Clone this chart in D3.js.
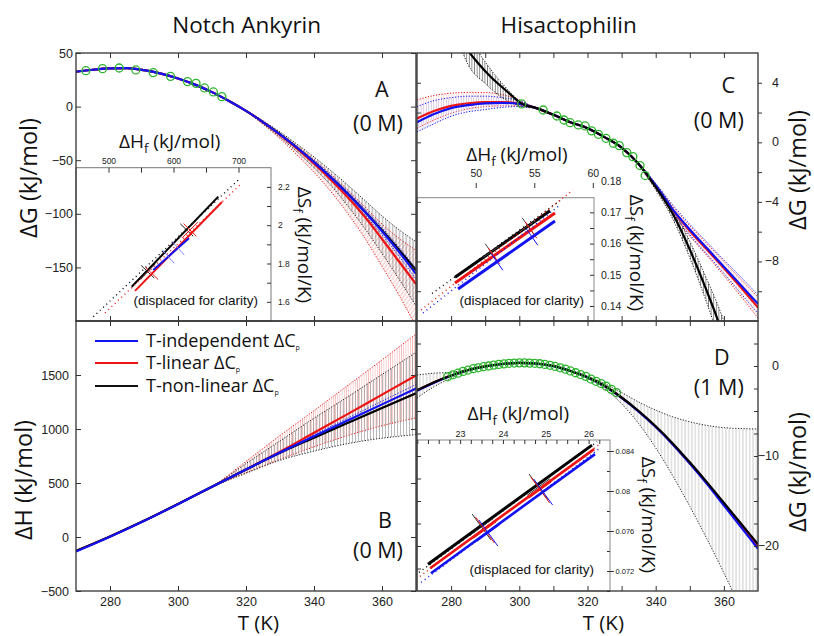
<!DOCTYPE html>
<html>
<head>
<meta charset="utf-8">
<script src="https://cdn.jsdelivr.net/npm/d3@7"></script>
<style>
body { margin: 0; background: #fff; }
svg { display: block; font-family: "Open Sans", sans-serif; }
</style>
</head>
<body>
<svg id="fig" width="814" height="636"></svg>
<script>
// ---------- data ----------
var T5 = [270,275,280,285,290,295,300,305,310,315,320,325,330,335,340,345,350,355,360,365,370];
var T10 = [270,280,290,300,310,320,330,340,350,360,370];

// A: Notch Ankyrin, dG (kJ/mol), 0 M
var A_black = [32.5,34.4,35.6,35.8,34.0,30.8,26.2,20.5,13.5,5.2,-4.0,-14.4,-25.9,-38.4,-51.8,-66.2,-81.6,-98.0,-115.4,-133.7,-152.7];
var A_blue  = [32.5,34.4,35.6,35.8,34.0,30.8,26.2,20.5,13.5,5.2,-4.0,-14.4,-25.9,-38.4,-51.8,-66.3,-81.8,-98.4,-116.2,-135.5,-156.0];
var A_red   = [32.5,34.4,35.6,35.8,34.0,30.8,26.2,20.5,13.5,5.2,-4.0,-14.5,-26.3,-39.3,-53.3,-68.4,-84.8,-103.0,-123.5,-144.5,-165.5];
var A_bandT = [320,325,330,335,340,345,350,355,360,365,370];
var A_blackHi = [-3.6,-13.2,-23.6,-35.0,-47.0,-59.8,-73.4,-87.6,-102.0,-114.8,-126.0];
var A_blackLo = [-4.4,-16.0,-28.6,-42.2,-57.0,-73.6,-93.0,-114.0,-137.0,-161.0,-186.0];
var A_redHi = [-3.6,-13.6,-24.6,-36.6,-49.2,-63.0,-78.0,-93.6,-109.6,-122.8,-134.0];
var A_redLo = [-4.4,-16.4,-30.0,-45.0,-61.2,-79.4,-100.0,-123.0,-149.0,-176.0,-205.0];
var A_blueHi = [-3.8,-14.0,-25.2,-37.4,-50.4,-64.4,-79.4,-95.6,-112.8,-131.4,-151.0];
var A_blueLo = [-4.2,-14.8,-26.6,-39.4,-53.2,-68.2,-84.2,-101.2,-119.6,-139.6,-161.0];
var A_greenT = [272.9,277.8,282.7,287.6,292.7,297.8,302.8,305.3,307.8,310.4,312.9];
var A_greenG = [33.5,35.4,36.0,34.2,31.7,28.2,23.3,21.7,17.4,13.7,9.3];

// B: Notch Ankyrin, dH (kJ/mol), 0 M
var B_black = [-129,5,150,305,465,625,780,920,1058,1195,1330];
var B_blue  = [-135,2,148,304,465,625,782,932,1080,1228,1375];
var B_red   = [-129,5,150,305,465,625,790,965,1140,1318,1495];
var B_bandT = [305,310,320,330,340,350,360,370];
var B_redHi = [385,467,700,940,1170,1405,1640,1880];
var B_redLo = [385,463,595,720,835,940,1030,1103];
var B_blackHi = [385,466,680,890,1100,1300,1505,1709];
var B_blackLo = [385,463,590,710,795,865,915,948];
var B_blueHi = [385,466,630,792,948,1102,1258,1412];
var B_blueLo = [385,464,620,772,916,1058,1198,1338];

// C: Hisactophilin, dG (kJ/mol), 0 M
var C_blackT = [280,283,285.5,288,291.6,296.5,300.7,305,310,315,320,325,330,335,340,345,350,355,358,362];
var C_black  = [8.6,7.0,6.0,5.3,4.4,3.4,2.6,2.3,1.85,1.35,0.95,0.35,-0.35,-1.45,-3.0,-4.8,-7.2,-10.0,-11.8,-14.6];
var C_red  = [1.6,2.1,2.45,2.62,2.7,2.7,2.6,2.3,1.85,1.35,0.95,0.35,-0.35,-1.45,-2.95,-4.55,-5.95,-7.2,-8.45,-9.75,-11.1];
var C_blue = [1.35,1.9,2.3,2.5,2.62,2.65,2.58,2.3,1.85,1.35,0.95,0.35,-0.35,-1.45,-2.9,-4.5,-5.85,-7.1,-8.35,-9.6,-10.85];
var C_bandLT = [280,283,285,290,295,300,304];
var C_blackHiL = [10.0,8.1,7.2,5.4,3.95,2.8,2.35];
var C_blackLoL = [7.3,6.2,5.2,3.95,3.0,2.45,2.3];
var C_bandRT = [335,340,345,350,355,358,362];
var C_blackHiR = [-1.45,-2.8,-4.45,-6.65,-9.2,-10.8,-13.3];
var C_blackLoR = [-1.55,-3.2,-5.15,-7.75,-10.8,-12.8,-15.9];
var C_rbLT = [270,275,280,285,290,295,300,303];
var C_redHiL = [2.85,3.15,3.3,3.35,3.35,3.2,2.85,2.5];
var C_redLoL = [0.95,1.5,1.95,2.25,2.4,2.45,2.45,2.35];
var C_blueHiL = [2.4,2.8,3.0,3.1,3.1,3.0,2.8,2.5];
var C_blueLoL = [0.7,1.25,1.75,2.05,2.2,2.35,2.4,2.35];
var C_rbRT = [335,340,345,350,355,360,365,370];
var C_redHiR = [-1.4,-2.8,-4.3,-5.6,-6.8,-8.0,-9.2,-10.4];
var C_redLoR = [-1.5,-3.1,-4.8,-6.3,-7.6,-8.95,-10.35,-11.8];
var C_blueHiR = [-1.4,-2.75,-4.2,-5.5,-6.7,-7.9,-9.05,-10.25];
var C_blueLoR = [-1.5,-3.05,-4.7,-6.2,-7.5,-8.8,-10.15,-11.5];
var C_greenT = [300.7,307.0,311.0,313.1,314.9,317.3,319.3,321.2,323.2,325.4,327.6,329.3,331.5,333.3,335.4,336.9];
var C_greenG = [2.58,2.17,1.77,1.50,1.32,1.17,1.10,0.77,0.54,0.27,-0.06,-0.22,-0.69,-0.96,-1.56,-2.23];

// D: Hisactophilin, dG (kJ/mol), 1 M
var D_black = [-2.7,-1.8,-1.05,-0.45,-0.05,0.22,0.35,0.28,0.0,-0.55,-1.25,-2.2,-3.5,-5.0,-6.7,-8.6,-10.7,-12.9,-15.2,-17.5,-19.8];
var D_blue  = [-2.75,-1.85,-1.08,-0.47,-0.06,0.21,0.34,0.27,-0.01,-0.56,-1.27,-2.23,-3.54,-5.06,-6.78,-8.72,-10.85,-13.1,-15.5,-17.9,-20.3];
var D_red   = [-2.72,-1.82,-1.06,-0.46,-0.05,0.22,0.35,0.28,0.0,-0.55,-1.26,-2.22,-3.52,-5.03,-6.75,-8.66,-10.8,-13.0,-15.4,-17.75,-20.1];
var D_bandLT = [270,275,280,285,288];
var D_hiL = [-1.0,-0.8,-0.7,-0.4,-0.15];
var D_loL = [-3.55,-2.3,-1.35,-0.55,-0.2];
var D_bandRT = [318,320,325,330,335,340,345,350,355,360,365,370];
var D_hiR = [-0.95,-1.15,-1.95,-2.95,-4.0,-4.9,-5.65,-6.2,-6.6,-6.85,-6.95,-7.0];
var D_loR = [-1.0,-1.35,-2.5,-4.2,-6.4,-9.1,-12.2,-15.6,-19.2,-23.0,-27.0,-31.0];
var D_greenT = [279,280.5,282,283.5,285,286.5,288,289.5,291,292.5,294,295.5,297,298.5,300,301.5,303,304.5,306,307.5,309,310.5,312,313.5,315,316.5,318,319.5,321,322.5,324,325.5,327,328.5];
var D_greenG = [-1.2,-0.98,-0.8,-0.6,-0.45,-0.3,-0.2,-0.08,0.0,0.1,0.18,0.24,0.3,0.33,0.35,0.35,0.32,0.3,0.25,0.18,0.08,-0.05,-0.2,-0.35,-0.55,-0.75,-0.95,-1.15,-1.45,-1.7,-1.95,-2.25,-2.6,-2.95];

// insets: [dHf, dSf] points (solid part, dotted extent, cross centres)
var iA_blackLine = [[535.7,1.679],[668.9,2.149]];
var iA_blackDots = [[476.6,1.522],[699.7,2.236]];
var iA_redLine = [[540.8,1.657],[674.6,2.121]];
var iA_redDots = [[494.6,1.542],[702.3,2.210]];
var iA_blueLine = [[568.9,1.766],[623.8,1.932]];
var iA_blackX = [[560.3,1.757],[620.3,1.975]];
var iA_redX = [[566.5,1.749],[625.4,1.975]];
var iA_blueX = [[592.0,1.836],[607.4,1.879]];

var iC_blackLine = [[48.23,0.14920],[56.34,0.17050]];
var iC_blackDots = [[46.27,0.14401],[57.20,0.17380]];
var iC_redLine = [[48.23,0.14737],[56.77,0.16980]];
var iC_redDots = [[45.33,0.13872],[58.31,0.17717]];
var iC_blueLine = [[48.49,0.14545],[56.77,0.16724]];
var iC_blueDots = [[45.50,0.13776],[57.20,0.17236]];
var iC_blackX = [[51.30,0.15731],[54.46,0.16563]];
var iC_redX = [[51.56,0.15602],[54.72,0.16435]];
var iC_blueX = [[51.82,0.15410],[54.81,0.16211]];

var iD_blackLine = [[22.25,0.07268],[26.08,0.08459]];
var iD_blackDots = [[22.04,0.07186],[26.20,0.08493]];
var iD_redLine = [[22.30,0.07228],[26.13,0.08419]];
var iD_redDots = [[22.06,0.07146],[26.27,0.08473]];
var iD_blueLine = [[22.32,0.07178],[26.15,0.08369]];
var iD_blueDots = [[22.09,0.07086],[26.24,0.08420]];
var iD_blackX = [[23.50,0.0764],[24.83,0.0804]];
var iD_redX = [[23.58,0.0761],[24.87,0.0801]];
var iD_blueX = [[23.66,0.0758],[24.94,0.0799]];

// tick values
var A_yticks = [50,0,-50,-100,-150];
var B_yticks = [-500,0,500,1000,1500];
var TL_ticks = [280,300,320,340,360];
var TR_ticks = [280,290,300,310,320,330,340,350,360];
var TR_labels = [280,300,320,340,360];
var C_yticks = [-10,-8,-6,-4,-2,0,2,4];
var C_ylabels = [-8,-4,0,4];
var D_yminor = [-22.5,-20,-17.5,-15,-12.5,-10,-7.5,-5,-2.5,0,2.5];
var D_ylabels = [0,-10,-20];

// ---------- setup ----------
var svg = d3.select("#fig");
var BLUE = "#1212f2", RED = "#ee1414", GREEN = "#2cb52c";
var fmt = d3.format("d");

var xL = d3.scaleLinear().domain([270,370]).range([76,416]);
var xR = d3.scaleLinear().domain([270,370]).range([417,758]);
var yA = d3.scaleLinear().domain([-200,50]).range([321,53]);
var yB = d3.scaleLinear().domain([-500,2000]).range([591,321]);
var yC = d3.scaleLinear().domain([-12,6]).range([321,53]);
var yD = d3.scaleLinear().domain([-25,5]).range([591,321]);

var iAx = d3.scaleLinear().domain([450,750]).range([76,271]);
var iAy = d3.scaleLinear().domain([1.5,2.3]).range([321,167.7]);
var iCx = d3.scaleLinear().domain([44.9,60.1]).range([416,594]);
var iCy = d3.scaleLinear().domain([0.1352,0.1747]).range([321,197.7]);
var iDx = d3.scaleLinear().domain([21.97,26.5]).range([416,610]);
var iDy = d3.scaleLinear().domain([0.070,0.0851]).range([591,440]);

var defs = svg.append("defs");
function hatch(id, color, gap, w, angle) {
  var p = defs.append("pattern").attr("id", id).attr("patternUnits", "userSpaceOnUse")
    .attr("width", gap).attr("height", 10);
  if (angle) p.attr("patternTransform", "rotate(" + angle + ")");
  p.append("line").attr("x1", gap / 2).attr("x2", gap / 2).attr("y1", 0).attr("y2", 10)
    .attr("stroke", color).attr("stroke-width", w);
}
hatch("hBlack", "#555", 3.4, 0.6);
hatch("hGrey", "#a3a3a3", 3.4, 0.6);
hatch("hGreyB", "#8a8a8a", 3.0, 0.6);
hatch("hBlackDense", "#333", 2.6, 0.6);
hatch("hRed", "#f3a3a3", 2.2, 0.6);
hatch("hRedDiag", "#f08a8a", 3.2, 0.6, 35);
hatch("hRedLight", "#f6b5b5", 2.5, 0.5);
hatch("hBlueLight", "#b5b5f6", 2.5, 0.5);

function clip(id, x0, y0, x1, y1) {
  defs.append("clipPath").attr("id", id).append("rect")
    .attr("x", x0).attr("y", y0).attr("width", x1 - x0).attr("height", y1 - y0);
}
clip("clipA", 76, 53, 416, 321);
clip("clipB", 76, 321, 416, 591);
clip("clipC", 417, 53, 758, 321);
clip("clipD", 417, 321, 758, 591);

function pts(xs, ys) { return xs.map(function(t, i) { return [t, ys[i]]; }); }

function curve(g, xs, ys, x, y, color, width, dash) {
  g.append("path").datum(pts(xs, ys))
    .attr("d", d3.line().x(function(d) { return x(d[0]); }).y(function(d) { return y(d[1]); }).curve(d3.curveMonotoneX))
    .attr("fill", "none").attr("stroke", color).attr("stroke-width", width)
    .attr("stroke-dasharray", dash || null);
}

function band(g, xs, hi, lo, x, y, color, pattern) {
  if (pattern) {
    var data = xs.map(function(t, i) { return [t, hi[i], lo[i]]; });
    g.append("path").datum(data)
      .attr("d", d3.area().x(function(d) { return x(d[0]); })
        .y0(function(d) { return y(d[2]); }).y1(function(d) { return y(d[1]); })
        .curve(d3.curveMonotoneX))
      .attr("fill", "url(#" + pattern + ")");
  }
  curve(g, xs, hi, x, y, color, 1, "1.2,1.6");
  curve(g, xs, lo, x, y, color, 1, "1.2,1.6");
}

function circles(g, xs, ys, x, y) {
  g.selectAll(null).data(pts(xs, ys)).enter().append("circle")
    .attr("cx", function(d) { return x(d[0]); })
    .attr("cy", function(d) { return y(d[1]); })
    .attr("r", 4).attr("fill", "none").attr("stroke", GREEN).attr("stroke-width", 1.3);
}

function axis(gen, tx, ty, size) {
  var g = svg.append("g").attr("transform", "translate(" + tx + "," + ty + ")").call(gen);
  g.select(".domain").remove();
  g.selectAll(".tick line").attr("stroke", "#333").attr("stroke-width", 1);
  g.selectAll(".tick text").attr("font-family", "'Liberation Sans', Arial, sans-serif")
    .attr("font-size", size || 12.5).attr("fill", "#222");
  return g;
}

function label(x, y, rot, parts, size, anchor, family) {
  var t = svg.append("text")
    .attr("transform", "translate(" + x + "," + y + ")" + (rot ? " rotate(" + rot + ")" : ""))
    .attr("text-anchor", anchor || "middle").attr("font-size", size).attr("fill", "#111");
  if (family) t.attr("font-family", family);
  parts.forEach(function(p) {
    var s = t.append("tspan").text(p[0]);
    if (p[1]) s.attr("font-size", p[1]);
    if (p[2]) s.attr("dy", p[2]);
  });
  return t;
}

// right-hand value labels, right-aligned just outside the frame
function rightLabels(vals, y, xEnd) {
  svg.append("g").selectAll("text").data(vals).enter().append("text")
    .attr("x", xEnd).attr("y", function(d) { return y(d); }).attr("dy", "0.32em")
    .attr("text-anchor", "end").attr("font-family", "'Liberation Sans', Arial, sans-serif")
    .attr("font-size", 12.5).attr("fill", "#222").text(fmt);
}

// ---------- panel A ----------
var gA = svg.append("g").attr("clip-path", "url(#clipA)");
band(gA, A_bandT, A_redHi, A_redLo, xL, yA, RED, "hRedDiag");
band(gA, A_bandT, A_blackHi, A_blackLo, xL, yA, "#222", "hBlack");
band(gA, A_bandT, A_blueHi, A_blueLo, xL, yA, BLUE, null);
curve(gA, T5, A_black, xL, yA, "#000", 2.2);
curve(gA, T5, A_red, xL, yA, RED, 2.2);
curve(gA, T5, A_blue, xL, yA, BLUE, 2.2);
circles(gA, A_greenT, A_greenG, xL, yA);

// ---------- panel B ----------
var gB = svg.append("g").attr("clip-path", "url(#clipB)");
band(gB, B_bandT, B_redHi, B_redLo, xL, yB, RED, "hRed");
band(gB, B_bandT, B_blackHi, B_blackLo, xL, yB, "#222", "hGreyB");
band(gB, B_bandT, B_blueHi, B_blueLo, xL, yB, BLUE, null);
curve(gB, T10, B_red, xL, yB, RED, 2.2);
curve(gB, T10, B_black, xL, yB, "#000", 2.2);
curve(gB, T10, B_blue, xL, yB, BLUE, 2.2);

// ---------- panel C ----------
var gC = svg.append("g").attr("clip-path", "url(#clipC)");
band(gC, C_rbLT, C_redHiL, C_redLoL, xR, yC, RED, "hRedLight");
band(gC, C_rbLT, C_blueHiL, C_blueLoL, xR, yC, BLUE, "hBlueLight");
band(gC, C_rbRT, C_redHiR, C_redLoR, xR, yC, RED, "hRedLight");
band(gC, C_rbRT, C_blueHiR, C_blueLoR, xR, yC, BLUE, null);
band(gC, C_bandLT, C_blackHiL, C_blackLoL, xR, yC, "#222", "hBlackDense");
band(gC, C_bandRT, C_blackHiR, C_blackLoR, xR, yC, "#222", "hBlackDense");
curve(gC, T5, C_red, xR, yC, RED, 2.2);
curve(gC, T5, C_blue, xR, yC, BLUE, 2.2);
curve(gC, C_blackT, C_black, xR, yC, "#000", 2.2);
circles(gC, C_greenT, C_greenG, xR, yC);

// ---------- panel D ----------
var gD = svg.append("g").attr("clip-path", "url(#clipD)");
band(gD, D_bandLT, D_hiL, D_loL, xR, yD, "#222", "hGrey");
band(gD, D_bandRT, D_hiR, D_loR, xR, yD, "#222", "hGrey");
curve(gD, T5, D_red, xR, yD, RED, 2.2);
curve(gD, T5, D_blue, xR, yD, BLUE, 2.2);
curve(gD, T5, D_black, xR, yD, "#000", 2.2);
circles(gD, D_greenT, D_greenG, xR, yD);

// ---------- insets ----------
function insetSeries(x, y, line, dots, crosses, color, w, along, perp, xColor) {
  var ln = d3.line().x(function(d) { return x(d[0]); }).y(function(d) { return y(d[1]); });
  if (dots) {
    svg.append("path").datum(dots).attr("d", ln).attr("fill", "none").attr("stroke", color)
      .attr("stroke-width", 1.4).attr("stroke-dasharray", "1,3.5");
  }
  svg.append("path").datum(line).attr("d", ln).attr("fill", "none").attr("stroke", color).attr("stroke-width", w);
  var x0 = x(line[0][0]), y0 = y(line[0][1]), x1 = x(line[1][0]), y1 = y(line[1][1]);
  var L = Math.hypot(x1 - x0, y1 - y0), ux = (x1 - x0) / L, uy = (y1 - y0) / L;
  crosses.forEach(function(c) {
    var cx = x(c[0]), cy = y(c[1]);
    if (along) {
      svg.append("line").attr("x1", cx - ux * along).attr("y1", cy - uy * along)
        .attr("x2", cx + ux * along).attr("y2", cy + uy * along)
        .attr("stroke", xColor).attr("stroke-width", 1);
    }
    svg.append("line").attr("x1", cx + uy * perp).attr("y1", cy - ux * perp)
      .attr("x2", cx - uy * perp).attr("y2", cy + ux * perp)
      .attr("stroke", xColor).attr("stroke-width", 1);
  });
}

// inset A
svg.append("rect").attr("x", 76).attr("y", 167.7).attr("width", 195).attr("height", 153.3)
  .attr("fill", "#fff").attr("stroke", "#777").attr("stroke-width", 1);
insetSeries(iAx, iAy, iA_blackLine, iA_blackDots, iA_blackX, "#000", 2, 11, 9, "#222");
insetSeries(iAx, iAy, iA_redLine, iA_redDots, iA_redX, RED, 2, 11, 9, RED);
insetSeries(iAx, iAy, iA_blueLine, null, iA_blueX, BLUE, 2, 0, 9, "#8080ff");
axis(d3.axisTop(iAx).tickValues([500,550,600,650,700]).tickSize(-5).tickPadding(4)
  .tickFormat(function(d) { return d % 100 === 0 ? d : ""; }), 0, 167.7, 8.5);
axis(d3.axisRight(iAy).tickValues([1.6,1.7,1.8,1.9,2,2.1,2.2]).tickSize(-4).tickPadding(7)
  .tickFormat(function(d) { return [1.6,1.8,2,2.2].indexOf(d) >= 0 ? String(d) : ""; }), 271, 0, 8.5);
label(169.7, 148, 0, [["ΔH"], ["f", 13, 5], [" (kJ/mol)", null, -5]], 19);
label(298, 245, 90, [["ΔS"], ["f", 13, 5], [" (kJ/mol/K)", null, -5]], 19);
label(195.8, 305, 0, [["(displaced for clarity)"]], 13.5, "middle", "'Liberation Sans', Arial, sans-serif");

// inset C
svg.append("rect").attr("x", 417).attr("y", 197.7).attr("width", 177).attr("height", 123.3)
  .attr("fill", "#fff").attr("stroke", "#888").attr("stroke-width", 1);
insetSeries(iCx, iCy, iC_blackLine, iC_blackDots, iC_blackX, "#000", 3, 10, 10, "#444");
insetSeries(iCx, iCy, iC_redLine, iC_redDots, iC_redX, RED, 3, 10, 10, RED);
insetSeries(iCx, iCy, iC_blueLine, iC_blueDots, iC_blueX, BLUE, 3, 10, 10, BLUE);
axis(d3.axisTop(iCx).tickValues([50,55,60]).tickSize(5).tickPadding(6.5).tickFormat(fmt), 0, 188, 10.5);
axis(d3.axisRight(iCy).tickValues([0.14,0.145,0.15,0.155,0.16,0.165,0.17]).tickSize(-4).tickFormat(""), 594, 0);
axis(d3.axisRight(iCy).tickValues([0.14,0.15,0.16,0.17,0.18]).tickSize(0).tickPadding(7)
  .tickFormat(d3.format(".2f")), 594, 0, 10.5);
label(517, 161, 0, [["ΔH"], ["f", 13, 5], [" (kJ/mol)", null, -5]], 19);
label(630, 253, 90, [["ΔS"], ["f", 13, 5], [" (kJ/mol/K)", null, -5]], 19);
label(521.7, 305, 0, [["(displaced for clarity)"]], 13.5, "middle", "'Liberation Sans', Arial, sans-serif");

// inset D
svg.append("rect").attr("x", 417).attr("y", 440).attr("width", 193).attr("height", 151)
  .attr("fill", "#fff").attr("stroke", "#888").attr("stroke-width", 1);
insetSeries(iDx, iDy, iD_blackLine, iD_blackDots, iD_blackX, "#000", 3, 14, 16, "#333");
insetSeries(iDx, iDy, iD_redLine, iD_redDots, iD_redX, RED, 2.6, 14, 16, RED);
insetSeries(iDx, iDy, iD_blueLine, iD_blueDots, iD_blueX, BLUE, 2.6, 14, 16, BLUE);
axis(d3.axisTop(iDx).tickValues([22,22.25,22.5,22.75,23,23.25,23.5,23.75,24,24.25,24.5,24.75,25,25.25,25.5,25.75,26,26.25])
  .tickSize(-4).tickPadding(3)
  .tickFormat(function(d) { return d % 1 === 0 && d > 22 ? fmt(d) : ""; }), 0, 440, 9);
axis(d3.axisRight(iDy).tickValues([0.07,0.072,0.074,0.076,0.078,0.08,0.082,0.084]).tickSize(-3).tickFormat(""), 610, 0);
axis(d3.axisRight(iDy).tickValues([0.072,0.076,0.08,0.084]).tickSize(4).tickPadding(1.5)
  .tickFormat(function(d) { return String(d); }), 610, 0, 7.5);
label(518.3, 420, 0, [["ΔH"], ["f", 13, 5], [" (kJ/mol)", null, -5]], 19);
label(641.5, 515, 90, [["ΔS"], ["f", 13, 5], [" (kJ/mol/K)", null, -5]], 19);
label(531.7, 574, 0, [["(displaced for clarity)"]], 13.5, "middle", "'Liberation Sans', Arial, sans-serif");

// ---------- axes / frames ----------
// A
axis(d3.axisLeft(yA).tickValues(A_yticks).tickSize(-5).tickPadding(3).tickFormat(fmt), 76, 0);
axis(d3.axisRight(yA).tickValues(A_yticks).tickSize(-5).tickFormat(""), 416, 0);
axis(d3.axisTop(xL).tickValues(TL_ticks).tickSize(-5).tickFormat(""), 0, 53);
axis(d3.axisBottom(xL).tickValues(TL_ticks).tickSize(-5).tickFormat(""), 0, 321);
// B
axis(d3.axisLeft(yB).tickValues(B_yticks).tickSize(-5).tickPadding(7).tickFormat(fmt), 76, 0);
axis(d3.axisRight(yB).tickValues(B_yticks).tickSize(-5).tickFormat(""), 416, 0);
axis(d3.axisTop(xL).tickValues(TL_ticks).tickSize(-5).tickFormat(""), 0, 321);
axis(d3.axisBottom(xL).tickValues(TL_ticks).tickSize(-5).tickPadding(6).tickFormat(fmt), 0, 591);
// C
axis(d3.axisTop(xR).tickValues(TR_ticks).tickSize(-5).tickFormat(""), 0, 53);
axis(d3.axisBottom(xR).tickValues(TR_ticks).tickSize(-5).tickFormat(""), 0, 321);
axis(d3.axisLeft(yC).tickValues(C_yticks).tickSize(-4).tickFormat(""), 417, 0);
axis(d3.axisRight(yC).tickValues(C_yticks).tickSize(4).tickFormat(""), 758, 0);
rightLabels(C_ylabels, yC, 779);
// D
axis(d3.axisTop(xR).tickValues(TR_ticks).tickSize(-5).tickFormat(""), 0, 321);
axis(d3.axisBottom(xR).tickValues(TR_ticks).tickSize(-5).tickFormat(""), 0, 591);
axis(d3.axisBottom(xR).tickValues(TR_labels).tickSize(0).tickPadding(6).tickFormat(fmt), 0, 591);
axis(d3.axisLeft(yD).tickValues(D_yminor).tickSize(-4).tickFormat(""), 417, 0);
axis(d3.axisRight(yD).tickValues(D_yminor).tickSize(-4).tickFormat(""), 758, 0);
rightLabels(D_ylabels, yD, 779);

function frame(x0, y0, x1, y1) {
  svg.append("rect").attr("x", x0).attr("y", y0).attr("width", x1 - x0).attr("height", y1 - y0)
    .attr("fill", "none").attr("stroke", "#333").attr("stroke-width", 1.3);
}
frame(76, 53, 416, 321);
frame(76, 321, 416, 591);
frame(417, 53, 758, 321);
frame(417, 321, 758, 591);

// ---------- legend ----------
var legNames = ["T-independent ΔC", "T-linear ΔC", "T-non-linear ΔC"];
var legColors = [BLUE, RED, "#111"];
var legY = [341, 363, 386];
legNames.forEach(function(n, i) {
  svg.append("line").attr("x1", 95).attr("x2", 138).attr("y1", legY[i]).attr("y2", legY[i])
    .attr("stroke", legColors[i]).attr("stroke-width", 2);
  label(146, legY[i] + 6, 0, [[n], ["p", 7, 3]], 18, "start");
});

// ---------- titles / labels ----------
label(246.7, 33, 0, [["Notch Ankyrin"]], 22.5);
label(568.7, 33, 0, [["Hisactophilin"]], 22.5);
label(37, 178, -90, [["ΔG (kJ/mol)"]], 23.5);
label(32, 480, -90, [["ΔH (kJ/mol)"]], 23.5);
label(806, 170, -90, [["ΔG (kJ/mol)"]], 23.5);
label(806, 472, -90, [["ΔG (kJ/mol)"]], 23.5);
label(258.3, 629.5, 0, [["T (K)"]], 20.5);
label(603.3, 629.5, 0, [["T (K)"]], 20.5);

label(381.7, 97, 0, [["A"]], 21.5);
label(378, 131, 0, [["(0 M)"]], 21.5);
label(728.3, 93.3, 0, [["C"]], 21.5);
label(718.8, 128.3, 0, [["(0 M)"]], 21.5);
label(385, 528.3, 0, [["B"]], 21.5);
label(378, 558.3, 0, [["(0 M)"]], 21.5);
label(721.7, 365, 0, [["D"]], 21.5);
label(718.8, 395, 0, [["(1 M)"]], 21.5);
</script>
</body>
</html>
